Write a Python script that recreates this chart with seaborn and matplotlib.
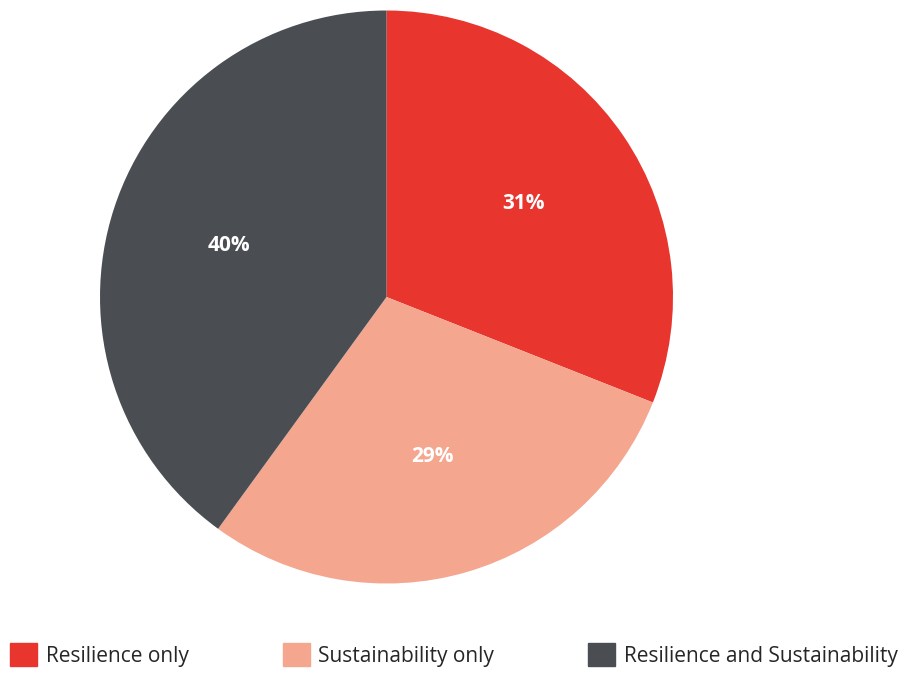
import matplotlib
matplotlib.use("Agg")
import matplotlib.pyplot as plt
import matplotlib.patches as mpatches
import seaborn as sns

# data
categories = ["Resilience only", "Sustainability only", "Resilience and Sustainability"]
shares = [31, 29, 40]
colors = ["#E8352E", "#F4A68F", "#4A4E53"]

sns.set_theme(style="white")
plt.rcParams["font.family"] = ["Open Sans", "DejaVu Sans"]
palette = sns.color_palette(colors)

fig = plt.figure(figsize=(9.06, 6.75), dpi=100)
ax = fig.add_axes([100 / 906, 91 / 675, 573 / 906, 574 / 675])

wedges, texts, autotexts = ax.pie(
    shares,
    colors=palette,
    startangle=90,
    counterclock=False,
    autopct="%d%%",
    pctdistance=0.58,
    radius=1,
    wedgeprops=dict(linewidth=0),
    textprops=dict(color="white", fontsize=15, fontweight="bold"),
)
ax.set_xlim(-1, 1)
ax.set_ylim(-1, 1)
ax.set_aspect("equal")
ax.axis("off")

handles = [mpatches.Patch(color=c, label=l) for c, l in zip(palette, categories)]
fig.legend(
    handles=handles,
    loc="lower left",
    bbox_to_anchor=(2 / 906, 0.0, 904 / 906, 0.06),
    mode="expand",
    ncol=3,
    frameon=False,
    fontsize=15,
    handlelength=1.3,
    handleheight=1.3,
    handletextpad=0.4,
    borderaxespad=0.0,
)

fig.savefig("out.png", dpi=100, facecolor="white")
